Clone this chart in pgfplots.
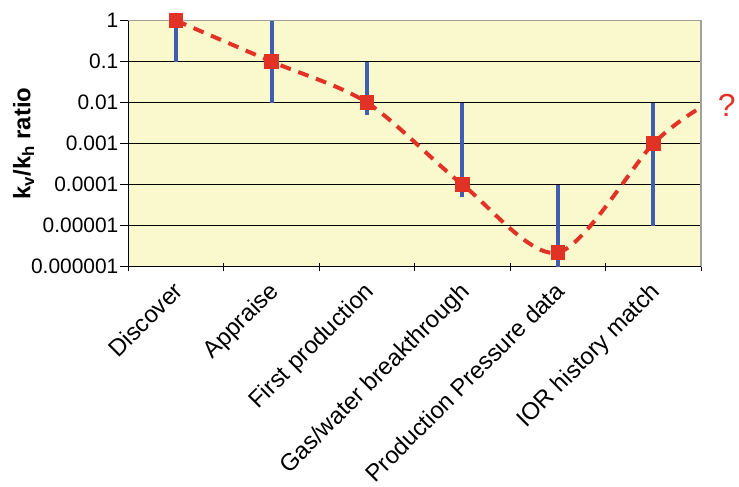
\documentclass[border=0pt]{standalone}
\usepackage{pgfplots}
\pgfplotsset{compat=1.18}
\usepackage{fontspec}
\setmainfont{Liberation Sans}
\definecolor{bgyellow}{RGB}{250,249,206}
\definecolor{ptred}{RGB}{226,50,38}
\definecolor{barblue}{RGB}{63,94,176}
\definecolor{bordergray}{RGB}{160,160,160}
\begin{document}
\begin{tikzpicture}
\begin{axis}[
  name=ax,
  scale only axis,
  width=575pt, height=247pt,
  ymode=log, ymin=1e-6, ymax=1,
  xmin=-0.5, xmax=5.5,
  clip=false,
  axis background/.style={fill=bgyellow},
  axis line style={bordergray, line width=1.2pt},
  xtick={-0.5,0.5,1.5,2.5,3.5,4.5,5.5},
  x tick label as interval,
  xticklabels={Discover,Appraise,First production,Gas/water breakthrough,Production Pressure data,IOR history match},
  xticklabel style={rotate=45, anchor=north east, font=\fontsize{24}{28}\selectfont, inner sep=1pt, xshift=-9pt, yshift=-3pt},
  ytick={1e-6,1e-5,1e-4,1e-3,1e-2,1e-1,1},
  yticklabels={0.000001,0.00001,0.0001,0.001,0.01,0.1,1},
  yticklabel style={font=\fontsize{21}{25}\selectfont, inner sep=2pt},
  minor ytick={},
  yminorticks=false,
  xtick pos=bottom, ytick pos=left,
  ytick align=outside, xtick align=center,
  major tick length=8pt,
  tick style={black, line width=1pt},
  ymajorgrids,
  major grid style={black, line width=1pt},
  every axis y label/.style={at={(axis description cs:-0.183,0.5)}, rotate=90, anchor=center},
  ylabel={\fontsize{24}{28}\selectfont\bfseries k\textsubscript{v}/k\textsubscript{h} ratio},
  /pgf/number format/assume math mode=true,
]
% borders: top/right gray, left/bottom black
\draw[bordergray, line width=1.6pt] (rel axis cs:0,1) -- (rel axis cs:1,1) -- (rel axis cs:1,0);
\draw[black, line width=1.2pt] (rel axis cs:0,1) -- (rel axis cs:0,0) -- (rel axis cs:1,0);
% blue ranges
\addplot[barblue, line width=4pt, no marks] coordinates {(0,0.1) (0,1)};
\addplot[barblue, line width=4pt, no marks] coordinates {(1,0.01) (1,1)};
\addplot[barblue, line width=4pt, no marks] coordinates {(2,0.0049) (2,0.1)};
\addplot[barblue, line width=4pt, no marks] coordinates {(3,0.00005) (3,0.01)};
\addplot[barblue, line width=4pt, no marks] coordinates {(4,0.000001) (4,0.0001)};
\addplot[barblue, line width=4pt, no marks] coordinates {(5,0.00001) (5,0.01)};
% dashed trend
\addplot[ptred, line width=4pt, dash pattern=on 11pt off 8pt, smooth, no marks]
  coordinates {(0,1) (1,0.1) (2,0.01) (3,0.0001) (4,0.0000022) (5,0.001) (5.5,0.0077)};
% points
\addplot[only marks, mark=square*, mark size=6.75pt, mark options={fill=ptred, draw=ptred, line width=0pt}]
  coordinates {(0,1) (1,0.1) (2,0.01) (3,0.0001) (4,0.0000022) (5,0.001)};
\node[ptred, font=\fontsize{32}{36}\selectfont, anchor=center] at (axis cs:5.77,0.0085) {?};
\end{axis}
\path ([xshift=-129pt,yshift=-221pt]ax.south west) rectangle ([xshift=35pt,yshift=20.7pt]ax.north east);
\end{tikzpicture}
\end{document}
